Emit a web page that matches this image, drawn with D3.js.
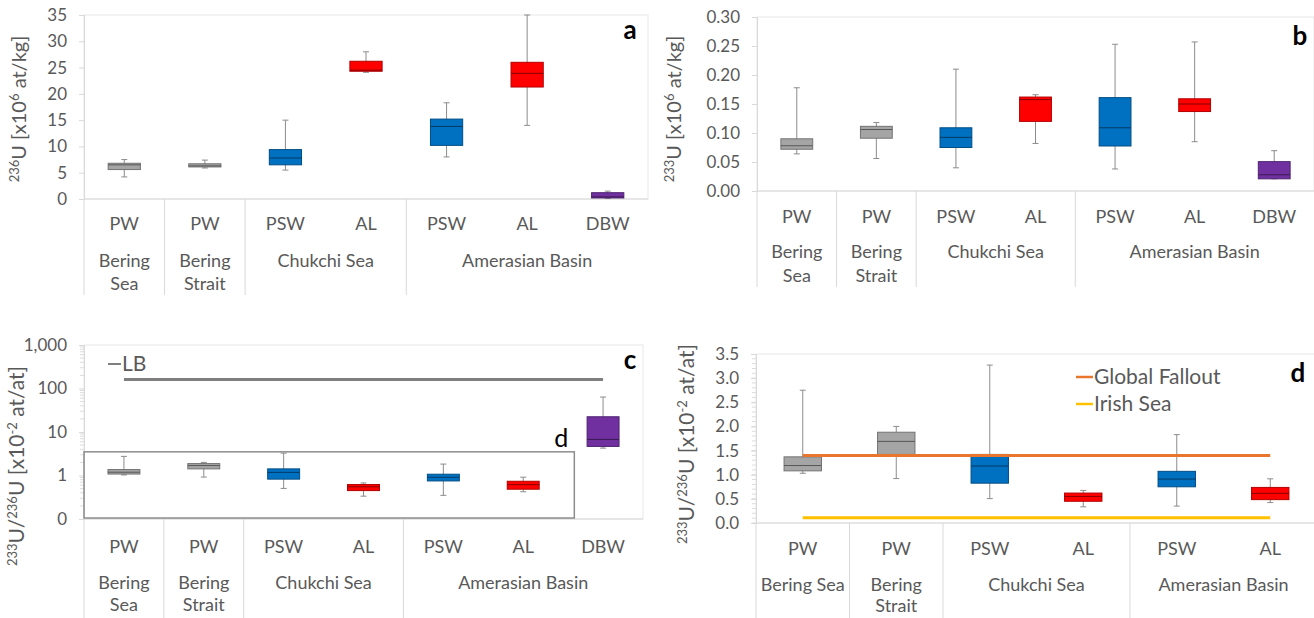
<!DOCTYPE html>
<html>
<head>
<meta charset="utf-8">
<script src="https://cdn.jsdelivr.net/npm/d3@7"></script>
<style>
  body { margin: 0; background: #fff; }
  svg text { font-family: Lato, "Open Sans", sans-serif; fill: #595959; }
</style>
</head>
<body>
<svg id="fig" width="1314" height="618"></svg>
<script>
// ---- data ----
var waterMass7 = ["PW", "PW", "PSW", "AL", "PSW", "AL", "DBW"];
var waterMass6 = ["PW", "PW", "PSW", "AL", "PSW", "AL"];
var regionNames = ["Bering Sea", "Bering Strait", "Chukchi Sea", "Amerasian Basin"];
var regionSpan7 = [1, 1, 2, 3];
var regionSpan6 = [1, 1, 2, 2];

// box stats: [min, q1, median, q3, max]
var u236 = [
  [4.2, 5.6, 6.5, 6.8, 7.5],
  [5.9, 6.1, 6.3, 6.7, 7.4],
  [5.5, 6.5, 7.8, 9.4, 15.0],
  [24.1, 24.3, 24.5, 26.2, 28.0],
  [8.0, 10.2, 13.8, 15.2, 18.3],
  [14.0, 21.3, 23.9, 26.0, 35.0],
  [0.1, 0.2, 0.4, 1.2, 1.5]
];
var u233 = [
  [0.064, 0.072, 0.078, 0.090, 0.178],
  [0.056, 0.091, 0.106, 0.1115, 0.118],
  [0.040, 0.075, 0.0925, 0.109, 0.210],
  [0.082, 0.120, 0.1575, 0.162, 0.166],
  [0.038, 0.0776, 0.109, 0.161, 0.253],
  [0.085, 0.137, 0.150, 0.159, 0.257],
  [0.021, 0.021, 0.028, 0.0506, 0.0695]
];
var ratio = [
  [1.03, 1.08, 1.19, 1.37, 2.75],
  [0.92, 1.42, 1.69, 1.88, 2.00],
  [0.505, 0.825, 1.18, 1.42, 3.27],
  [0.335, 0.45, 0.55, 0.62, 0.675],
  [0.35, 0.75, 0.91, 1.07, 1.83],
  [0.423, 0.484, 0.614, 0.737, 0.915],
  [4.26, 4.66, 6.75, 22.4, 63.7]
];

// reference lines
var lbRatio = 160;
var globalFallout = 1.4;
var irishSea = 0.11;
var insetTop = 3.5;

// tick values
var ticksA = [0, 5, 10, 15, 20, 25, 30, 35];
var ticksB = [0, 0.05, 0.10, 0.15, 0.20, 0.25, 0.30];
var ticksC = [0.1, 1, 10, 100, 1000];
var ticksD = [0, 0.5, 1.0, 1.5, 2.0, 2.5, 3.0, 3.5];

var massColor = { PW: "#A5A5A5", PSW: "#0070C0", AL: "#FF0000", DBW: "#7030A0" };

var svg = d3.select("#fig");

// draw one box-plot panel
function drawPanel(p) {
  var g = svg.append("g");
  var n = p.cats.length;
  var x = d3.scaleBand().domain(d3.range(n)).range([p.left, p.right]);
  var y = p.y;
  var y0 = y.range()[0], y1 = y.range()[1];
  var bw = x.bandwidth() * 0.4;
  var cx = function(i) { return x(i) + x.bandwidth() / 2; };

  // plot area border
  g.append("rect")
    .attr("x", p.left).attr("y", y1)
    .attr("width", p.right - p.left).attr("height", y0 - y1)
    .attr("fill", "none").attr("stroke", "#e8e8e8");

  // minor ticks (c, d)
  if (p.minor) {
    g.selectAll(".minor").data(p.minor).enter().append("line")
      .attr("x1", p.left - 4).attr("x2", p.left)
      .attr("y1", function(d) { return y(d); }).attr("y2", function(d) { return y(d); })
      .attr("stroke", "#dcdcdc");
  }

  // y axis
  var ax = g.append("g")
    .attr("transform", "translate(" + p.left + ",0)")
    .call(d3.axisLeft(y).tickValues(p.ticks).tickFormat(p.fmt).tickSize(5).tickPadding(12));
  ax.select(".domain").attr("stroke", "#d9d9d9");
  ax.selectAll(".tick line").attr("stroke", "#d9d9d9");
  ax.selectAll(".tick text").attr("font-size", 17).attr("fill", "#595959")
    .style("font-family", "Lato, 'Open Sans', sans-serif");

  // category axis line
  g.append("line").attr("x1", p.left).attr("x2", p.right).attr("y1", y0).attr("y2", y0)
    .attr("stroke", "#d9d9d9");

  // water mass labels
  g.selectAll(".cat").data(p.cats).enter().append("text")
    .attr("x", function(d, i) { return cx(i); })
    .attr("y", p.row1).attr("dy", "0.35em")
    .attr("text-anchor", "middle").attr("font-size", 18)
    .text(function(d) { return d; });

  // region labels and separators
  var start = 0;
  p.spans.forEach(function(span, k) {
    var xl = x(start), xr = x(start + span - 1) + x.bandwidth();
    g.append("line").attr("x1", xl).attr("x2", xl).attr("y1", y0).attr("y2", p.sepBottom)
      .attr("stroke", "#d9d9d9");
    var t = g.append("text").attr("x", (xl + xr) / 2).attr("y", p.row2).attr("dy", "0.35em")
      .attr("text-anchor", "middle").attr("font-size", 18).text(regionNames[k]);
    if (t.node().getComputedTextLength() > (xr - xl) * 0.96) {
      var words = regionNames[k].split(" ");
      t.text(words[0]);
      g.append("text").attr("x", (xl + xr) / 2).attr("y", p.row3).attr("dy", "0.35em")
        .attr("text-anchor", "middle").attr("font-size", 18).text(words.slice(1).join(" "));
    }
    start += span;
  });

  // boxes
  var box = g.selectAll(".box").data(p.data.slice(0, n)).enter().append("g");
  box.append("line")
    .attr("x1", function(d, i) { return cx(i); }).attr("x2", function(d, i) { return cx(i); })
    .attr("y1", function(d) { return y(d[0]); }).attr("y2", function(d) { return y(d[4]); })
    .attr("stroke", "#8c8c8c");
  [0, 4].forEach(function(j) {
    box.append("line")
      .attr("x1", function(d, i) { return cx(i) - 3; }).attr("x2", function(d, i) { return cx(i) + 3; })
      .attr("y1", function(d) { return y(d[j]); }).attr("y2", function(d) { return y(d[j]); })
      .attr("stroke", "#8c8c8c");
  });
  box.append("rect")
    .attr("x", function(d, i) { return cx(i) - bw / 2; })
    .attr("y", function(d) { return y(d[3]); })
    .attr("width", bw)
    .attr("height", function(d) { return Math.max(1, y(d[1]) - y(d[3])); })
    .attr("fill", function(d, i) { return massColor[p.cats[i]]; })
    .attr("stroke", function(d, i) { return d3.color(massColor[p.cats[i]]).darker(1); });
  box.append("line")
    .attr("x1", function(d, i) { return cx(i) - bw / 2; }).attr("x2", function(d, i) { return cx(i) + bw / 2; })
    .attr("y1", function(d) { return y(d[2]); }).attr("y2", function(d) { return y(d[2]); })
    .attr("stroke", function(d, i) { return d3.color(massColor[p.cats[i]]).darker(1.8); });

  // y title with superscripts
  var tt = svg.append("text")
    .attr("transform", "translate(" + p.titleX + "," + p.titleY + ") rotate(-90)")
    .attr("text-anchor", "middle").attr("font-size", p.titleSize);
  var shift = 0;
  p.title.forEach(function(part) {
    var want = part[1] ? -7 : 0;
    tt.append("tspan").attr("font-size", part[1] ? 13 : p.titleSize)
      .attr("dy", want - shift)
      .text(part[0]);
    shift = want;
  });

  // panel letter
  svg.append("text").attr("x", p.letterX).attr("y", p.letterY).attr("dy", "0.35em")
    .attr("text-anchor", "middle").attr("font-size", 26).attr("font-weight", "bold")
    .style("fill", "#000").text(p.letter);

  return { x: x, y: y, cx: cx, g: g };
}

// ---- panel a ----
drawPanel({
  cats: waterMass7, spans: regionSpan7, data: u236,
  left: 84, right: 648,
  y: d3.scaleLinear().domain([0, 35]).range([199, 15]),
  ticks: ticksA, fmt: d3.format("d"),
  row1: 224, row2: 261, row3: 284, sepBottom: 295,
  title: [["236", 1], ["U [x10", 0], ["6", 1], [" at/kg]", 0]], titleSize: 20,
  titleX: 26, titleY: 109, letter: "a", letterX: 630, letterY: 30
});

// ---- panel b ----
drawPanel({
  cats: waterMass7, spans: regionSpan7, data: u233,
  left: 757, right: 1314,
  y: d3.scaleLinear().domain([0, 0.30]).range([191, 17]),
  ticks: ticksB, fmt: d3.format(".2f"),
  row1: 217, row2: 252, row3: 276, sepBottom: 287,
  title: [["233", 1], ["U [x10", 0], ["6", 1], [" at/kg]", 0]], titleSize: 20,
  titleX: 681, titleY: 109, letter: "b", letterX: 1300, letterY: 36
});

// ---- panel c ----
var minorC = [];
[0.1, 1, 10, 100].forEach(function(dec) {
  d3.range(2, 10).forEach(function(m) { minorC.push(dec * m); });
});
var pc = drawPanel({
  cats: waterMass7, spans: regionSpan7, data: ratio,
  left: 84, right: 643,
  y: d3.scaleLog().domain([0.1, 1000]).range([519, 345]),
  ticks: ticksC, fmt: function(v) { return v < 1 ? "0" : d3.format(",")(v); },
  minor: minorC,
  row1: 547, row2: 583, row3: 605, sepBottom: 618,
  title: [["233", 1], ["U/", 0], ["236", 1], ["U [x10", 0], ["-2", 1], [" at/at]", 0]], titleSize: 21,
  titleX: 24, titleY: 466, letter: "c", letterX: 630, letterY: 360
});

// LB reference line + legend
pc.g.append("line")
  .attr("x1", pc.cx(0)).attr("x2", pc.cx(6))
  .attr("y1", pc.y(lbRatio)).attr("y2", pc.y(lbRatio))
  .attr("stroke", "#7f7f7f").attr("stroke-width", 3);
pc.g.append("line").attr("x1", 108).attr("x2", 121).attr("y1", 364).attr("y2", 364)
  .attr("stroke", "#7f7f7f").attr("stroke-width", 2);
pc.g.append("text").attr("x", 122).attr("y", 364).attr("dy", "0.35em")
  .attr("font-size", 21).text("LB");

// inset frame marking panel d
var insetRight = pc.x(5) + pc.x.bandwidth() * 1.14;
pc.g.append("rect")
  .attr("x", pc.x(0)).attr("y", pc.y(insetTop))
  .attr("width", insetRight - pc.x(0))
  .attr("height", pc.y.range()[0] - 1 - pc.y(insetTop))
  .attr("fill", "none").attr("stroke", "#8c8c8c").attr("stroke-width", 1.5);
pc.g.append("text").attr("x", insetRight - 13).attr("y", pc.y(insetTop) - 14)
  .attr("text-anchor", "middle").attr("dy", "0.35em")
  .attr("font-size", 25).style("fill", "#000").text("d");

// ---- panel d ----
var minorD = d3.range(0, 35).map(function(i) { return i / 10; });
var pd = drawPanel({
  cats: waterMass6, spans: regionSpan6, data: ratio,
  left: 756, right: 1317,
  y: d3.scaleLinear().domain([0, 3.5]).range([523, 354]),
  ticks: ticksD, fmt: d3.format(".1f"),
  minor: minorD,
  row1: 549, row2: 585, row3: 606, sepBottom: 618,
  title: [["233", 1], ["U/", 0], ["236", 1], ["U [x10", 0], ["-2", 1], [" at/at]", 0]], titleSize: 21,
  titleX: 694, titleY: 444, letter: "d", letterX: 1298, letterY: 373
});

var refLines = [
  { name: "Global Fallout", value: globalFallout, color: "#E8762D" },
  { name: "Irish Sea", value: irishSea, color: "#FFC000" }
];
refLines.forEach(function(r, k) {
  pd.g.append("line")
    .attr("x1", pd.cx(0)).attr("x2", pd.cx(5))
    .attr("y1", pd.y(r.value)).attr("y2", pd.y(r.value))
    .attr("stroke", r.color).attr("stroke-width", 3);
  var ly = 377 + k * 27;
  pd.g.append("line").attr("x1", 1076).attr("x2", 1093).attr("y1", ly).attr("y2", ly)
    .attr("stroke", r.color).attr("stroke-width", 2.5);
  pd.g.append("text").attr("x", 1094).attr("y", ly).attr("dy", "0.35em")
    .attr("font-size", 21).text(r.name);
});
</script>
</body>
</html>
